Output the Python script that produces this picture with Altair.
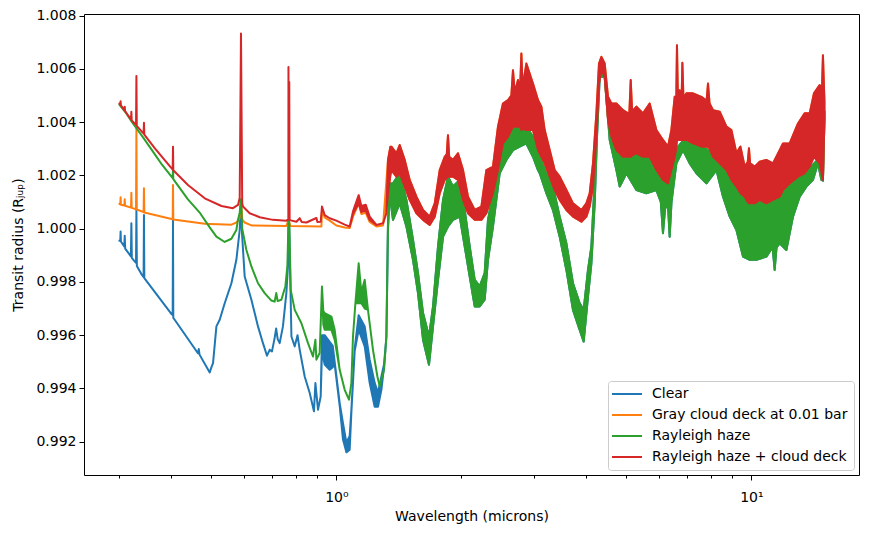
import altair as alt
import pandas as pd

SERIES = ["Clear", "Gray cloud deck at 0.01 bar", "Rayleigh haze", "Rayleigh haze + cloud deck"]
COLORS = ["#1f77b4", "#ff7f0e", "#2ca02c", "#d62728"]

# (wavelength [micron], lower, upper) -- single value means a thin line
CLEAR_VIS = [
    (0.3000, 0.99955), (0.3015, 0.99957), (0.3020, 0.99989), (0.3025, 0.99952),
    (0.3082, 0.99933), (0.3090, 0.99973), (0.3098, 0.99925),
    (0.3198, 0.99896), (0.3206, 1.00020), (0.3214, 0.99890), (0.3253, 0.99880),
    (0.3290, 0.99872), (0.3297, 1.00070), (0.3305, 0.99860), (0.3400, 0.99826),
    (0.3431, 0.99818), (0.3438, 1.00051), (0.3445, 0.99814),
    (0.4003, 0.99680), (0.4032, 0.99676), (0.4039, 1.00033), (0.4046, 0.99665),
    (0.4077, 0.99658), (0.4638, 0.99532), (0.4660, 0.99548), (0.4680, 0.99527),
    (0.4952, 0.99460), (0.5000, 0.99480), (0.5044, 0.99495), (0.5139, 0.99633),
    (0.5234, 0.99658), (0.5381, 0.99720), (0.5585, 0.99795), (0.5741, 0.99883),
    (0.5848, 0.99995), (0.5890, 1.00100), (0.5925, 0.99980), (0.6012, 0.99820),
    (0.6240, 0.99733), (0.6473, 0.99633), (0.6654, 0.99570), (0.6804, 0.99523),
    (0.6907, 0.99545), (0.6995, 0.99539), (0.7100, 0.99590), (0.7160, 0.99625),
    (0.7220, 0.99585), (0.7300, 0.99570), (0.7434, 0.99633), (0.7576, 0.99758),
    (0.7644, 0.99858), (0.7670, 1.00033), (0.7700, 1.00000), (0.7792, 0.99595),
    (0.7936, 0.99558), (0.8060, 0.99600), (0.8159, 0.99545), (0.8387, 0.99445),
    (0.8624, 0.99383), (0.8830, 0.99314), (0.8901, 0.99420), (0.9030, 0.99320),
    (0.9166, 0.99370), (0.9232, 0.99540, 0.99600), (0.9371, 0.99490, 0.99600),
    (0.9636, 0.99470, 0.99575), (0.9800, 0.99480, 0.99560), (0.9906, 0.99490, 0.99500),
    (1.0185, 0.99335, 0.99345), (1.0373, 0.99208, 0.99270), (1.0571, 0.99160, 0.99196),
    (1.0765, 0.99170, 0.99222), (1.0867, 0.99310, 0.99320), (1.1068, 0.99540, 0.99550),
    (1.1316, 0.99620, 0.99675), (1.1701, 0.99558, 0.99633), (1.2028, 0.99421, 0.99508),
    (1.2368, 0.99331, 0.99421), (1.2596, 0.99331, 0.99384), (1.2836, 0.99395, 0.99445),
    (1.3024, 0.99480, 0.99490),
]

ORANGE_VIS = [
    (0.3000, 1.00093), (0.3015, 1.00091), (0.3020, 1.00118), (0.3025, 1.00090),
    (0.3084, 1.00087), (0.3090, 1.00110), (0.3096, 1.00086),
    (0.3200, 1.00079), (0.3206, 1.00135), (0.3212, 1.00078),
    (0.3290, 1.00073), (0.3297, 1.00383), (0.3304, 1.00072),
    (0.3431, 1.00062), (0.3438, 1.00152), (0.3445, 1.00061),
    (0.4032, 1.00035), (0.4039, 1.00164), (0.4046, 1.00034),
    (0.4817, 1.00018), (0.5585, 1.00015), (0.5741, 1.00023), (0.5848, 1.00040),
    (0.5890, 1.00110), (0.5930, 1.00035), (0.6012, 1.00023), (0.6240, 1.00012),
    (0.7576, 1.00010), (0.7670, 1.00033), (0.7700, 1.00025), (0.7750, 1.00010),
    (0.9202, 1.00008), (0.9232, 1.00065), (0.9371, 1.00042), (0.9636, 1.00030),
    (1.0000, 1.00012), (1.0472, 1.00004), (1.0765, 1.00002), (1.0965, 1.00045),
    (1.1316, 1.00095), (1.1487, 1.00055), (1.1767, 1.00060), (1.2028, 1.00025),
    (1.2486, 1.00008), (1.2952, 1.00012),
]

GREEN_VIS = [
    (0.3000, 1.00466), (0.3100, 1.00438), (0.3206, 1.00404), (0.3297, 1.00377),
    (0.3438, 1.00338), (0.3649, 1.00280), (0.3800, 1.00240),
    (0.4032, 1.00190), (0.4039, 1.00222), (0.4046, 1.00186),
    (0.4388, 1.00110), (0.4696, 1.00058), (0.4952, 1.00005), (0.5139, 0.99970),
    (0.5381, 0.99950), (0.5585, 0.99962), (0.5741, 0.99995), (0.5793, 1.00033),
    (0.5848, 1.00060), (0.5890, 1.00110), (0.5930, 1.00000), (0.6069, 0.99920),
    (0.6240, 0.99858), (0.6473, 0.99795), (0.6717, 0.99758), (0.6972, 0.99730),
    (0.7100, 0.99726), (0.7163, 0.99758), (0.7220, 0.99728), (0.7369, 0.99733),
    (0.7534, 0.99783), (0.7618, 0.99858), (0.7670, 1.00033), (0.7699, 1.00020),
    (0.7762, 0.99770), (0.7936, 0.99695), (0.8236, 0.99645), (0.8543, 0.99570),
    (0.8781, 0.99520), (0.8901, 0.99583), (0.8951, 0.99508), (0.9115, 0.99533),
    (0.9232, 0.99783), (0.9300, 0.99640, 0.99690), (0.9371, 0.99620, 0.99683),
    (0.9727, 0.99620, 0.99670), (0.9906, 0.99583, 0.99620), (1.0185, 0.99470),
    (1.0472, 0.99395), (1.0724, 0.99358), (1.0867, 0.99420), (1.0965, 0.99595),
    (1.1112, 0.99720), (1.1316, 0.99720, 0.99870), (1.1487, 0.99720, 0.99760),
    (1.1701, 0.99700, 0.99808), (1.1915, 0.99695), (1.2252, 0.99545),
    (1.2555, 0.99445), (1.2715, 0.99408), (1.3024, 0.99470),
]

GREEN_IR = [
    (1.3199, 0.99595, 0.99595), (1.3315, 1.00000, 1.00020), (1.3442, 1.00130, 1.00170),
    (1.3691, 1.00033, 1.00170), (1.4209, 1.00095, 1.00208), (1.4748, 1.00008, 1.00108),
    (1.5298, 0.99883, 0.99958), (1.5728, 0.99758, 0.99833), (1.6172, 0.99583, 0.99683),
    (1.6717, 0.99489, 0.99595), (1.7095, 0.99633, 0.99708), (1.7575, 0.99808, 0.99933),
    (1.8072, 0.99970, 1.00108), (1.8575, 1.00008, 1.00195), (1.9099, 1.00033, 1.00158),
    (1.9824, 1.00045, 1.00183), (2.0383, 0.99933, 1.00070), (2.0953, 0.99820, 0.99933),
    (2.1544, 0.99708, 0.99808), (2.2146, 0.99708, 0.99783), (2.2768, 0.99733, 0.99833),
    (2.3191, 0.99883, 1.00033), (2.3841, 1.00008, 1.00133), (2.4745, 1.00208, 1.00308),
    (2.5680, 1.00258, 1.00370), (2.6640, 1.00295, 1.00383), (2.7650, 1.00308, 1.00383),
    (2.8694, 1.00320, 1.00383), (2.9765, 1.00270, 1.00345), (3.0606, 1.00220, 1.00283),
    (3.0897, 1.00208, 1.00270), (3.2063, 1.00133, 1.00208), (3.3260, 1.00070, 1.00158),
    (3.4521, 0.99970, 1.00045), (3.5826, 0.99845, 0.99945), (3.7163, 0.99695, 0.99795),
    (3.8574, 0.99620, 0.99720), (3.9436, 0.99576, 0.99695), (4.0392, 0.99745, 0.99845),
    (4.1162, 0.99870, 0.99933), (4.1921, 1.00095, 1.00183), (4.2465, 1.00345, 1.00433),
    (4.3106, 1.00570, 1.00595), (4.4313, 1.00570, 1.00583), (4.5565, 1.00333, 1.00380),
    (4.7288, 1.00220, 1.00320), (4.8168, 1.00158, 1.00300), (4.9989, 1.00208, 1.00290),
    (5.2843, 1.00145, 1.00290), (5.5847, 1.00133, 1.00280), (5.9034, 1.00145, 1.00240),
    (6.0500, 1.00100, 1.00200), (6.1235, 0.99983, 1.00190), (6.2000, 1.00080, 1.00185),
    (6.3000, 1.00080, 1.00180), (6.3548, 0.99970, 1.00180), (6.4200, 1.00100, 1.00200),
    (6.4730, 1.00145, 1.00230),
    (6.5965, 1.00245, 1.00300), (6.8429, 1.00295, 1.00330), (7.1020, 1.00245, 1.00320),
    (7.3717, 1.00208, 1.00310), (7.7928, 1.00170, 1.00300), (8.2374, 1.00220, 1.00260),
    (8.5449, 1.00120, 1.00230), (8.8682, 1.00045, 1.00190), (9.2047, 0.99995, 1.00160),
    (9.5477, 0.99895, 1.00120), (9.9061, 0.99883, 1.00100), (10.281, 0.99883, 1.00100),
    (10.867, 0.99895, 1.00100), (11.250, 0.99930, 1.00105), (11.379, 0.99845, 1.00110),
    (11.500, 0.99930, 1.00115), (11.700, 0.99945, 1.00120),
    (12.143, 0.99920, 1.00150), (12.597, 1.00045, 1.00180), (13.074, 1.00120, 1.00200),
    (13.567, 1.00158, 1.00210), (14.072, 1.00183, 1.00240), (14.468, 1.00245, 1.00260),
    (14.744, 1.00183, 1.00240), (14.875, 1.00180, 1.00240), (15.000, 1.00410, 1.00440),
]

RED_VIS = [
    (0.3000, 1.00470), (0.3015, 1.00465), (0.3020, 1.00478), (0.3025, 1.00463),
    (0.3084, 1.00445), (0.3090, 1.00458), (0.3096, 1.00441),
    (0.3200, 1.00410), (0.3206, 1.00439), (0.3212, 1.00406),
    (0.3290, 1.00390), (0.3297, 1.00573), (0.3304, 1.00386),
    (0.3431, 1.00357), (0.3438, 1.00398), (0.3445, 1.00353), (0.3649, 1.00302),
    (0.4032, 1.00222), (0.4039, 1.00308), (0.4046, 1.00219),
    (0.4388, 1.00164), (0.4817, 1.00114), (0.5284, 1.00085), (0.5634, 1.00077),
    (0.5793, 1.00089), (0.5848, 1.00115), (0.5890, 1.00733), (0.5930, 1.00095),
    (0.5955, 1.00083), (0.6181, 1.00058), (0.6534, 1.00043), (0.7034, 1.00033),
    (0.7576, 1.00030), (0.7660, 1.00035), (0.7665, 1.00607), (0.7682, 1.00040),
    (0.7699, 1.00551), (0.7715, 1.00032), (0.8011, 1.00026), (0.8159, 1.00039),
    (0.8250, 1.00025), (0.8466, 1.00023), (0.8951, 1.00040), (0.9000, 1.00025),
    (0.9166, 1.00026), (0.9232, 1.00083), (0.9371, 1.00051), (0.9636, 1.00039),
    (1.0000, 1.00030), (1.0472, 1.00015), (1.0765, 1.00008),
    (1.0965, 1.00055, 1.00065), (1.1316, 1.00095, 1.00126), (1.1487, 1.00062, 1.00085),
    (1.1767, 1.00068, 1.00090), (1.2028, 1.00033, 1.00045), (1.2486, 1.00014),
    (1.2952, 1.00020), (1.3199, 1.00058),
]

RED_IR = [
    (1.3315, 1.00133, 1.00258), (1.3494, 1.00200, 1.00308), (1.3569, 1.00220, 1.00308),
    (1.3952, 1.00195, 1.00283), (1.4209, 1.00208, 1.00314), (1.4609, 1.00158, 1.00258),
    (1.5019, 1.00108, 1.00183), (1.5590, 1.00058, 1.00120), (1.6172, 1.00033, 1.00070),
    (1.6783, 1.00014, 1.00045), (1.7257, 1.00045, 1.00095), (1.7742, 1.00133, 1.00220),
    (1.8239, 1.00183, 1.00270), (1.8450, 1.00190, 1.00280), (1.8575, 1.00195, 1.00351),
    (1.8700, 1.00195, 1.00270), (1.9099, 1.00195, 1.00258),
    (1.9634, 1.00183, 1.00283), (2.0192, 1.00108, 1.00220), (2.0756, 1.00058, 1.00120),
    (2.1544, 1.00033, 1.00070), (2.2356, 1.00033, 1.00083), (2.2984, 1.00058, 1.00220),
    (2.3841, 1.00133, 1.00233), (2.4513, 1.00220, 1.00383), (2.5200, 1.00320, 1.00470),
    (2.5912, 1.00345, 1.00483), (2.6400, 1.00370, 1.00500), (2.6640, 1.00383, 1.00595),
    (2.6900, 1.00383, 1.00510), (2.7390, 1.00383, 1.00558), (2.7700, 1.00383, 1.00520),
    (2.7912, 1.00370, 1.00658), (2.8100, 1.00375, 1.00530), (2.8694, 1.00370, 1.00620),
    (2.9765, 1.00370, 1.00545),
    (3.0606, 1.00295, 1.00483), (3.1189, 1.00270, 1.00458), (3.1762, 1.00245, 1.00370),
    (3.2659, 1.00195, 1.00295), (3.3574, 1.00145, 1.00220), (3.4521, 1.00108, 1.00195),
    (3.5826, 1.00070, 1.00145), (3.7163, 1.00045, 1.00095), (3.8939, 1.00026, 1.00070),
    (4.0031, 1.00045, 1.00095), (4.0775, 1.00083, 1.00133), (4.1527, 1.00158, 1.00245),
    (4.2319, 1.00345, 1.00433), (4.2937, 1.00545, 1.00620), (4.3515, 1.00595, 1.00645),
    (4.4313, 1.00570, 1.00620), (4.5136, 1.00408, 1.00495), (4.5997, 1.00345, 1.00470),
    (4.7288, 1.00295, 1.00470), (4.9053, 1.00270, 1.00445), (5.0800, 1.00270, 1.00430),
    (5.1200, 1.00270, 1.00558), (5.1600, 1.00275, 1.00440),
    (5.2843, 1.00283, 1.00458), (5.4816, 1.00270, 1.00433), (5.6872, 1.00270, 1.00470),
    (5.9034, 1.00220, 1.00370), (6.1235, 1.00183, 1.00333), (6.2951, 1.00170, 1.00308),
    (6.4150, 1.00220, 1.00370), (6.5345, 1.00270, 1.00495), (6.5900, 1.00300, 1.00470),
    (6.6178, 1.00333, 1.00689), (6.6500, 1.00333, 1.00500),
    (6.7176, 1.00333, 1.00520), (6.7900, 1.00333, 1.00480), (6.8193, 1.00333, 1.00623),
    (6.8600, 1.00333, 1.00490), (6.9737, 1.00333, 1.00508),
    (7.2339, 1.00320, 1.00508), (7.5786, 1.00308, 1.00495), (7.8000, 1.00308, 1.00480),
    (7.8613, 1.00308, 1.00545), (7.9300, 1.00300, 1.00470),
    (8.0835, 1.00270, 1.00445), (8.3889, 1.00245, 1.00439), (8.7078, 1.00220, 1.00383),
    (8.9523, 1.00183, 1.00370), (9.2047, 1.00158, 1.00283), (9.4101, 1.00133, 1.00308),
    (9.6384, 1.00120, 1.00233), (9.8000, 1.00100, 1.00250), (9.8674, 1.00095, 1.00302),
    (9.9300, 1.00095, 1.00245), (10.186, 1.00095, 1.00233),
    (10.471, 1.00108, 1.00251), (10.867, 1.00095, 1.00258), (11.272, 1.00108, 1.00245),
    (11.700, 1.00120, 1.00295), (11.916, 1.00145, 1.00320), (12.369, 1.00170, 1.00320),
    (12.952, 1.00195, 1.00395), (13.440, 1.00208, 1.00433), (13.818, 1.00233, 1.00433),
    (14.150, 1.00270, 1.00508), (14.605, 1.00245, 1.00539), (14.800, 1.00200, 1.00530),
    (14.875, 1.00183, 1.00651), (14.940, 1.00300, 1.00560),
    (15.000, 1.00420, 1.00480),
]

X_TICKS = [0.3, 0.4, 0.5, 0.6, 0.7, 0.8, 0.9, 1, 2, 3, 4, 5, 6, 7, 8, 9, 10]
Y_TICKS = [0.992, 0.994, 0.996, 0.998, 1.000, 1.002, 1.004, 1.006, 1.008]


def frame(points, name):
    recs = []
    for p in points:
        lo = p[1]
        hi = p[2] if len(p) > 2 else p[1]
        recs.append({"wavelength": p[0], "lo": lo, "hi": hi, "series": name})
    return pd.DataFrame(recs).sort_values("wavelength")


data = [
    frame(CLEAR_VIS + GREEN_IR, SERIES[0]),
    frame(ORANGE_VIS + RED_IR, SERIES[1]),
    frame(GREEN_VIS + GREEN_IR, SERIES[2]),
    frame(RED_VIS + RED_IR, SERIES[3]),
]

x_scale = alt.Scale(type="log", domain=[0.2465, 18.17], nice=False, zero=False)
y_scale = alt.Scale(domain=[0.99075, 1.00806], nice=False, zero=False)

x_axis = alt.Axis(
    values=X_TICKS,
    labelExpr="datum.value == 1 ? '10\u2070' : (datum.value == 10 ? '10\u00b9' : '')",
    tickSize={"condition": {"test": "datum.value == 1 || datum.value == 10", "value": 5}, "value": 3},
    labelPadding=10,
    title="Wavelength (microns)",
    titlePadding=5,
)
y_axis = alt.Axis(
    values=Y_TICKS,
    format=".3f",
    tickSize=5,
    labelPadding=3,
    title="Transit radius (R\u2c7c\u1d64\u209a)",
    titlePadding=10,
)

legend_kw = dict(
    title=None,
    orient="none",
    legendX=524,
    legendY=367,
    symbolType="M-1.8,0L4.2,0",
    symbolSize=100,
    symbolStrokeWidth=2,
    labelFontSize=14,
    labelFont="DejaVu Sans",
    labelColor="black",
    labelLimit=400,
    labelOffset=24,
    rowPadding=7,
    padding=6,
    fillColor="rgba(255,255,255,0.8)",
    strokeColor="#cccccc",
    cornerRadius=3,
)

fill_scale = alt.Scale(domain=SERIES, range=COLORS)
stroke_scale = alt.Scale(domain=SERIES, range=COLORS)

layers = []
for df in data:
    layers.append(
        alt.Chart(df)
        .mark_area(strokeWidth=2, strokeJoin="round", fillOpacity=1, clip=True)
        .encode(
            x=alt.X("wavelength:Q", scale=x_scale, axis=x_axis),
            y=alt.Y("lo:Q", scale=y_scale, axis=y_axis),
            y2="hi:Q",
            fill=alt.Fill("series:N", scale=fill_scale, legend=alt.Legend(**legend_kw)),
            stroke=alt.Stroke("series:N", scale=stroke_scale, legend=alt.Legend(**legend_kw)),
        )
    )

chart = (
    alt.layer(*layers)
    .properties(
        width=775,
        height=461,
        autosize=alt.AutoSizeParams(type="none"),
        padding={"left": 84, "top": 14, "right": 10, "bottom": 58},
        background="white",
    )
    .configure_view(stroke="black", strokeWidth=1)
    .configure_axis(
        grid=False,
        domain=False,
        labelFont="DejaVu Sans",
        labelFontSize=14,
        labelColor="black",
        titleFont="DejaVu Sans",
        titleFontSize=14,
        titleFontWeight="normal",
        titleColor="black",
        tickColor="black",
        tickWidth=1,
    )
)

chart.save("out.html", embed_options={"renderer": "svg", "actions": False})
